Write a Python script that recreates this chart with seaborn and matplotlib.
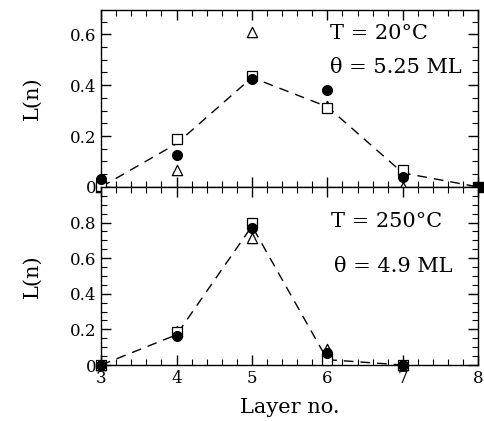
import pandas as pd
import numpy as np
import matplotlib.pyplot as plt
import seaborn as sns
from matplotlib.ticker import MultipleLocator, FixedLocator

layers = [3, 4, 5, 6, 7, 8]

# T = 20 C panel
top_circle = [0.03, 0.125, 0.425, 0.38, 0.04]
top_square = [0.005, 0.19, 0.435, 0.31, 0.065]
top_triangle = [0.0, 0.065, 0.61, 0.32, 0.0]
top_line = [0.0, 0.17, 0.43, 0.315, 0.055, 0.0]

# T = 250 C panel
bot_circle = [0.0, 0.165, 0.77, 0.065, 0.0]
bot_square = [0.0, 0.185, 0.80, 0.03, 0.0]
bot_triangle = [0.0, 0.19, 0.715, 0.09, 0.0]
bot_line = [0.0, 0.17, 0.78, 0.03, 0.0]


def make_points(circle, square, triangle):
    rows = []
    for name, vals in [('circle', circle), ('square', square), ('triangle', triangle)]:
        for x, v in zip(layers, vals):
            rows.append({'layer': x, 'L': v, 'kind': name})
    return pd.DataFrame(rows)


def draw_panel(ax, circle, square, triangle, line):
    df_line = pd.DataFrame({'layer': layers[:len(line)], 'L': line})
    sns.lineplot(data=df_line, x='layer', y='L', ax=ax, color='black', lw=1.0,
                 dashes=False, linestyle=(0, (7, 5)))
    df = make_points(circle, square, triangle)
    sty = {'circle': dict(marker='o', color='black', s=50, edgecolor='black'),
           'square': dict(marker='s', facecolor='white', s=55, edgecolor='black'),
           'triangle': dict(marker='^', facecolor='white', s=55, edgecolor='black')}
    for k in ['triangle', 'square', 'circle']:
        sub = df[df['kind'] == k]
        sns.scatterplot(data=sub, x='layer', y='L', ax=ax, linewidth=0.9, zorder=3,
                        clip_on=False, **sty[k])


def main():
    sns.set_style('ticks')
    plt.rcParams['font.family'] = ['DejaVu Serif']
    plt.rcParams['mathtext.fontset'] = 'dejavuserif'
    plt.rcParams['text.color'] = 'black'
    plt.rcParams['axes.labelcolor'] = 'black'
    plt.rcParams['xtick.color'] = 'black'
    plt.rcParams['ytick.color'] = 'black'

    fig = plt.figure(figsize=(4.84, 4.21), dpi=100)
    ax1 = fig.add_axes([0.209, 0.556, 0.779, 0.420])
    ax2 = fig.add_axes([0.209, 0.133, 0.779, 0.423])

    draw_panel(ax1, top_circle, top_square, top_triangle, top_line)
    ax1.scatter([8], [0], marker='s', color='black', s=55, zorder=4, clip_on=False)
    draw_panel(ax2, bot_circle, bot_square, bot_triangle, bot_line)

    for ax in (ax1, ax2):
        ax.set_xlim(3, 8)
        ax.xaxis.set_major_locator(MultipleLocator(1))
        ax.xaxis.set_minor_locator(MultipleLocator(0.2))
        ax.yaxis.set_minor_locator(MultipleLocator(0.05))
        ax.tick_params(which='both', direction='in', top=True, right=True,
                       labelsize=12, colors='black')
        ax.tick_params(which='major', length=7, width=1.0)
        ax.tick_params(which='minor', length=4, width=0.8)
        for s in ax.spines.values():
            s.set_linewidth(1.0)
            s.set_color('black')
        ax.set_ylabel('L(n)', fontsize=15, labelpad=20)
        ax.set_xlabel('')

    ax1.set_ylim(0, 0.695)
    ax1.yaxis.set_major_locator(FixedLocator([0, 0.2, 0.4, 0.6]))
    ax1.set_yticklabels(['0', '0.2', '0.4', '0.6'])
    ax1.tick_params(labelbottom=False)

    ax2.set_ylim(0, 1.0)
    ax2.yaxis.set_major_locator(FixedLocator([0, 0.2, 0.4, 0.6, 0.8]))
    ax2.set_yticklabels(['0', '0.2', '0.4', '0.6', '0.8'])
    ax2.set_xlabel('Layer no.', fontsize=15, labelpad=8)

    ax1.text(6.03, 0.605, 'T = 20°C', fontsize=15, ha='left', va='center')
    ax1.text(6.03, 0.47, 'θ = 5.25 ML', fontsize=15, ha='left', va='center')
    ax2.text(6.05, 0.805, 'T = 250°C', fontsize=15, ha='left', va='center')
    ax2.text(6.09, 0.552, 'θ = 4.9 ML', fontsize=15, ha='left', va='center')

    fig.savefig('out.png', dpi=100)


if __name__ == '__main__':
    main()
